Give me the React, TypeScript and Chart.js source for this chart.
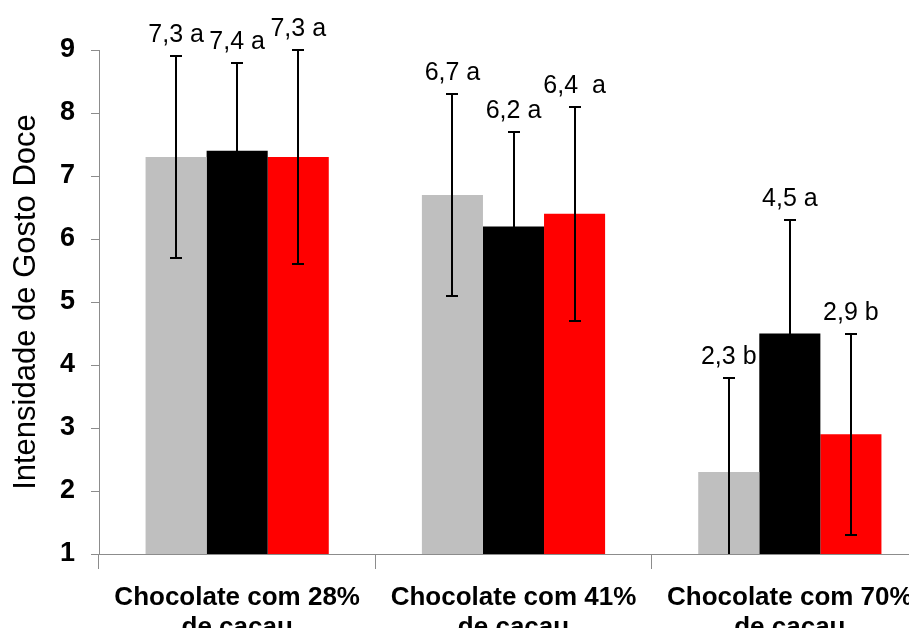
import React, { useEffect, useRef } from "react";
import { Chart, registerables } from "chart.js";

Chart.register(...registerables);

const categories: string[][] = [
  ["Chocolate com 28%", "de cacau"],
  ["Chocolate com 41%", "de cacau"],
  ["Chocolate com 70%", "de cacau"],
];

const seriesNames = ["Série 1", "Série 2", "Série 3"];
const seriesColors = ["#BFBFBF", "#000000", "#FF0000"];

const grayValues = [7.3, 6.7, 2.3];
const blackValues = [7.4, 6.2, 4.5];
const redValues = [7.3, 6.4, 2.9];

const grayErrors = [1.6, 1.6, 1.5];
const blackErrors = [1.4, 1.5, 1.8];
const redErrors = [1.7, 1.7, 1.6];

const grayLabels = ["7,3 a", "6,7 a", "2,3 b"];
const blackLabels = ["7,4 a", "6,2 a", "4,5 a"];
const redLabels = ["7,3 a", "6,4  a", "2,9 b"];

const yTicks = [1, 2, 3, 4, 5, 6, 7, 8, 9];

const values = [grayValues, blackValues, redValues];
const errors = [grayErrors, blackErrors, redErrors];
const labels = [grayLabels, blackLabels, redLabels];

const errorBarPlugin = {
  id: "errorBars",
  afterDatasetsDraw(chart: any) {
    const { ctx, chartArea, scales } = chart;
    const y = scales.y;
    ctx.save();
    ctx.beginPath();
    ctx.rect(chartArea.left, chartArea.top - 10, chartArea.right - chartArea.left, chartArea.bottom - chartArea.top + 10);
    ctx.clip();
    ctx.strokeStyle = "#000";
    ctx.lineWidth = 2;
    chart.data.datasets.forEach((ds: any, i: number) => {
      const meta = chart.getDatasetMeta(i);
      meta.data.forEach((el: any, j: number) => {
        const v = values[i][j];
        const e = errors[i][j];
        const x = Math.round(el.x);
        const yt = Math.round(y.getPixelForValue(v + e));
        const yb = Math.round(y.getPixelForValue(v - e));
        ctx.beginPath();
        ctx.moveTo(x, yt);
        ctx.lineTo(x, yb);
        ctx.moveTo(x - 6, yt);
        ctx.lineTo(x + 6, yt);
        ctx.moveTo(x - 6, yb);
        ctx.lineTo(x + 6, yb);
        ctx.stroke();
      });
    });
    ctx.restore();
    ctx.save();
    ctx.fillStyle = "#000";
    ctx.font = "25px 'Liberation Sans', Arial, sans-serif";
    ctx.textAlign = "center";
    ctx.textBaseline = "alphabetic";
    chart.data.datasets.forEach((ds: any, i: number) => {
      const meta = chart.getDatasetMeta(i);
      meta.data.forEach((el: any, j: number) => {
        const v = values[i][j];
        const e = errors[i][j];
        const yt = y.getPixelForValue(v + e);
        ctx.fillText(labels[i][j], el.x, yt - 14);
      });
    });
    ctx.restore();
  },
};

export default function App() {
  const ref = useRef<HTMLCanvasElement | null>(null);
  useEffect(() => {
    if (!ref.current) return;
    const chart = new Chart(ref.current, {
      type: "bar",
      data: {
        labels: categories,
        datasets: values.map((vals, i) => ({
          label: seriesNames[i],
          data: vals,
          backgroundColor: seriesColors[i],
          borderWidth: 0,
          categoryPercentage: 0.663,
          barPercentage: 1,
        })),
      },
      options: {
        animation: false,
        responsive: false,
        devicePixelRatio: 1,
        layout: { padding: { left: 0, top: 50, right: 2, bottom: 0 } },
        plugins: {
          legend: { display: false },
          tooltip: { enabled: false },
        },
        scales: {
          x: {
            offset: true,
            grid: {
              display: true,
              offset: true,
              drawOnChartArea: false,
              drawTicks: true,
              tickLength: 15,
              color: "#8C8C8C",
              lineWidth: 1,
            },
            border: { display: true, color: "#8C8C8C", width: 1 },
            ticks: {
              color: "#000",
              padding: 14,
              maxRotation: 0,
              autoSkip: false,
              font: { family: "'Liberation Sans', Arial, sans-serif", size: 26, weight: "bold", lineHeight: 1.15 },
            },
            afterFit(scale: any) {
              scale.height = 82;
            },
          },
          y: {
            min: 1,
            max: 9,
            afterBuildTicks(scale: any) {
              scale.ticks = yTicks.map((v) => ({ value: v }));
            },
            grid: {
              display: true,
              drawOnChartArea: false,
              drawTicks: true,
              tickLength: 8,
              color: "#8C8C8C",
            },
            border: { display: true, color: "#8C8C8C", width: 1 },
            ticks: {
              color: "#000",
              padding: 16,
              font: { family: "'Liberation Sans', Arial, sans-serif", size: 27, weight: "bold" },
            },
            title: {
              display: true,
              text: "Intensidade de Gosto Doce",
              color: "#000",
              padding: { top: 8, bottom: 0 },
              font: { family: "'Liberation Sans', Arial, sans-serif", size: 31, lineHeight: 1.2 },
            },
            afterFit(scale: any) {
              scale.width = 99;
            },
          },
        },
      },
      plugins: [errorBarPlugin],
    });
    return () => chart.destroy();
  }, []);
  return (
    <div style={{ margin: -8, width: 917, height: 636, overflow: "hidden", background: "#fff" }}>
      <canvas ref={ref} width={930} height={636} style={{ width: 930, height: 636, display: "block" }} />
    </div>
  );
}
